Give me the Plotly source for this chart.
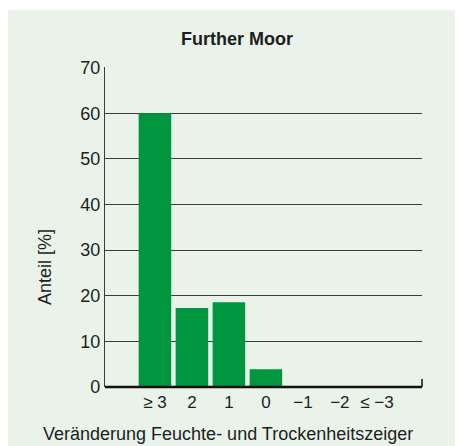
import plotly.graph_objects as go

categories = ["≥ 3", "2", "1", "0", "−1", "−2", "≤ −3"]
anteil = [60, 17.3, 18.6, 3.9, 0, 0, 0]
y_ticks = [0, 10, 20, 30, 40, 50, 60, 70]

# the page body adds an 8px offset; figure is sized to the visible window part
OFF = 8
W, H = 463 - OFF, 446 - OFF
L, R, T, B = 105 - OFF, 463 - 422, 67 - OFF, 446 - 387
pw, ph = W - L - R, H - T - B

def px(sx):
    return (sx - OFF - L) / pw

def py(sy):
    return (H - B - (sy - OFF)) / ph

FONT = "Liberation Sans, Arial, Helvetica, sans-serif"
GRID = "#3c3c3c"
TXT = "#1e1e1e"

fig = go.Figure()
fig.add_trace(go.Bar(x=categories, y=anteil, marker=dict(color="#009640", line=dict(width=0)),
                     hoverinfo="skip"))

fig.update_layout(
    width=W, height=H,
    margin=dict(l=L, r=R, t=T, b=B, pad=0),
    paper_bgcolor="white",
    plot_bgcolor="rgba(0,0,0,0)",
    bargap=0.12,
    showlegend=False,
    font=dict(family=FONT, color=TXT),
    xaxis=dict(
        type="category", range=[-1.35, 7.22], showgrid=False, zeroline=False,
        showline=False, ticks="", ticklabelstandoff=3, tickfont=dict(size=17, color=TXT),
        fixedrange=True,
    ),
    yaxis=dict(
        range=[0, 70.15], tickvals=y_ticks, showgrid=True, gridcolor=GRID, gridwidth=1.2,
        zeroline=False, showline=True, linecolor=GRID, linewidth=1.2,
        ticks="", ticklabelstandoff=0, tickfont=dict(size=18, color=TXT),
        fixedrange=True,
    ),
    shapes=[
        dict(type="rect", xref="paper", yref="paper", x0=px(8), x1=px(470),
             y0=py(450), y1=py(10), fillcolor="#e9f3ea", line=dict(width=0), layer="below"),
        dict(type="line", xref="paper", yref="paper", x0=0, x1=1, y0=0, y1=0,
             line=dict(color="#111111", width=2.5), layer="above"),
        dict(type="line", xref="paper", yref="paper", x0=1, x1=1, y0=0, y1=py(379),
             line=dict(color="#111111", width=1.5), layer="above"),
    ],
    annotations=[
        dict(text="<b>Further Moor</b>", xref="paper", yref="paper", x=px(237), y=py(39),
             showarrow=False, font=dict(size=18, color=TXT), xanchor="center", yanchor="middle"),
        dict(text="Anteil [%]", xref="paper", yref="paper", x=px(45), y=py(267),
             showarrow=False, textangle=-90, font=dict(size=18, color=TXT),
             xanchor="center", yanchor="middle"),
        dict(text="Veränderung Feuchte- und Trockenheitszeiger", xref="paper", yref="paper",
             x=px(228), y=py(434), showarrow=False, font=dict(size=18, color=TXT),
             xanchor="center", yanchor="middle"),
    ],
)

fig.write_html("out.html", config=dict(displayModeBar=False))
